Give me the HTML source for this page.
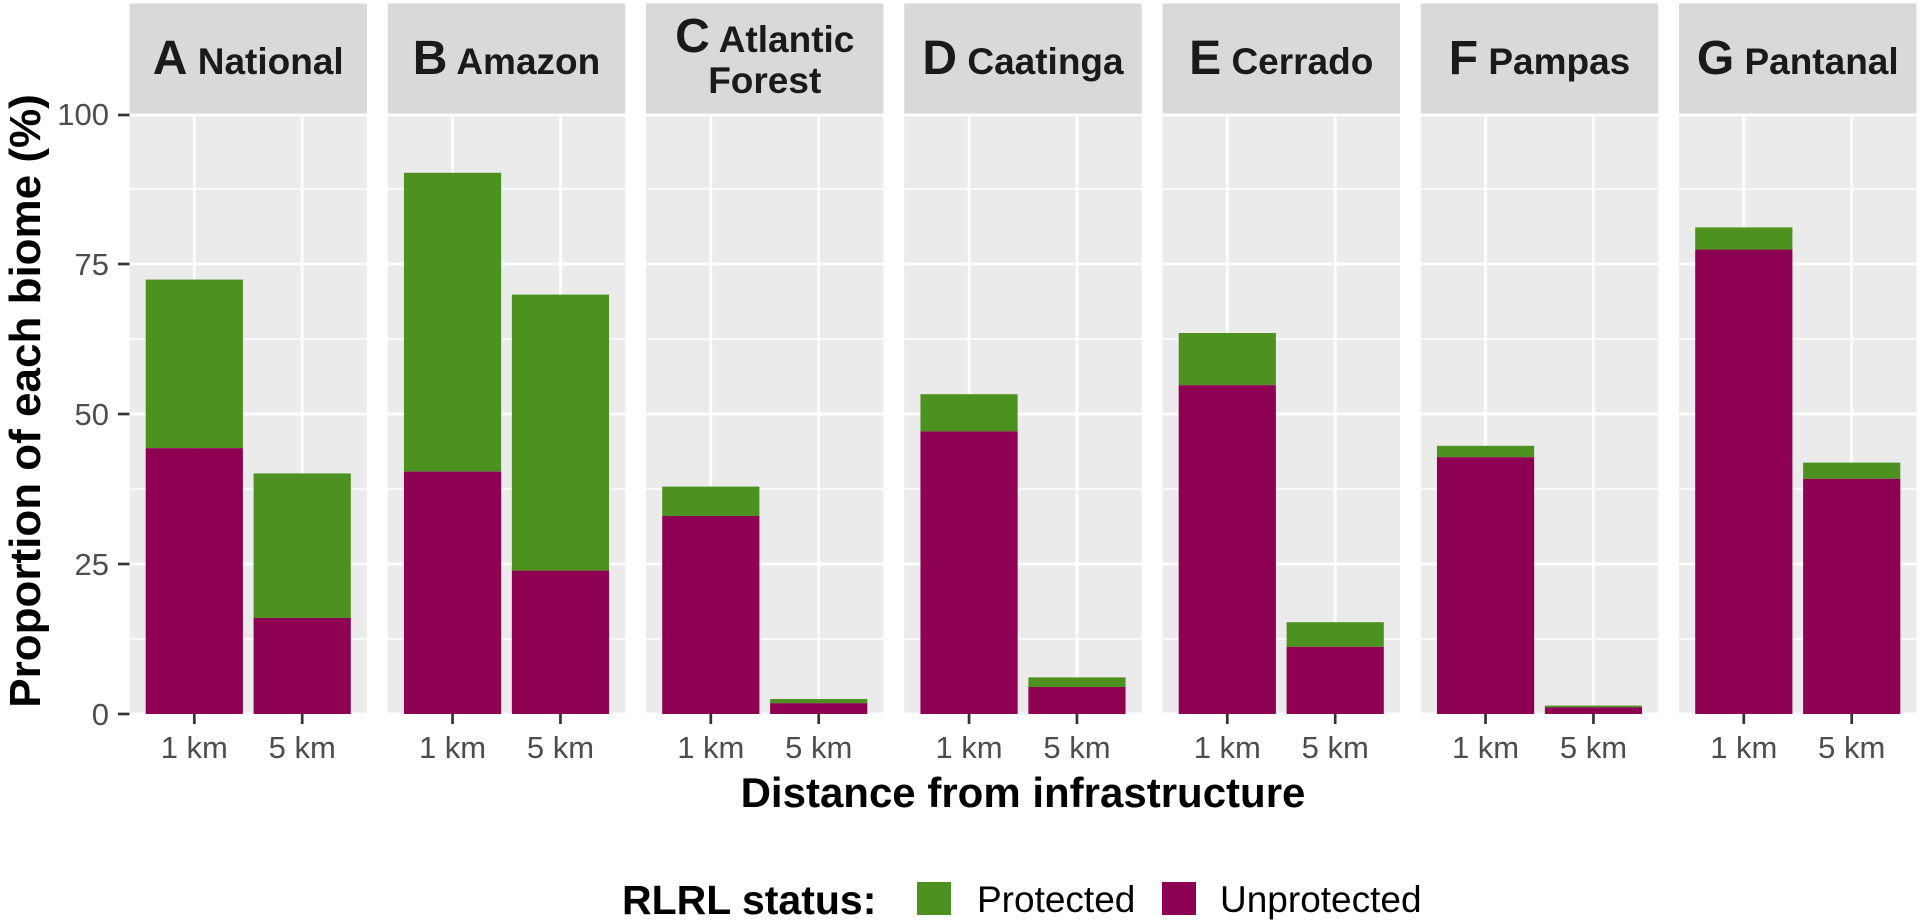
<!DOCTYPE html>
<html>
<head>
<meta charset="utf-8">
<style>
  html, body { margin: 0; padding: 0; background: #ffffff; }
  body { width: 1920px; height: 924px; overflow: hidden; }
  svg { display: block; }
  text { font-family: "Liberation Sans", Arial, sans-serif; }
</style>
</head>
<body>
<svg width="1920" height="924" viewBox="0 0 1920 924" xmlns="http://www.w3.org/2000/svg">
  <rect x="0" y="0" width="1920" height="924" fill="#ffffff"/>

  <g id="panels">
    <!-- Panel A -->
    <g transform="translate(129.5,0)">
      <rect x="0" y="3.5" width="237.5" height="110.5" fill="#d9d9d9"/>
      <rect x="0" y="114" width="237.5" height="600" fill="#ebebeb"/>
      <g stroke="#ffffff" stroke-width="1.4">
        <line x1="0" x2="237.5" y1="639" y2="639"/><line x1="0" x2="237.5" y1="489" y2="489"/>
        <line x1="0" x2="237.5" y1="339" y2="339"/><line x1="0" x2="237.5" y1="189" y2="189"/>
      </g>
      <g stroke="#ffffff" stroke-width="2.7">
        <line x1="0" x2="237.5" y1="714" y2="714"/><line x1="0" x2="237.5" y1="564" y2="564"/>
        <line x1="0" x2="237.5" y1="414" y2="414"/><line x1="0" x2="237.5" y1="264" y2="264"/>
        <line x1="0" x2="237.5" y1="115" y2="115"/>
        <line x1="64.8" x2="64.8" y1="114" y2="714"/><line x1="172.7" x2="172.7" y1="114" y2="714"/>
      </g>
      <rect x="16.2" y="279.6" width="97.2" height="168.6" fill="#4d9221"/>
      <rect x="16.2" y="448.2" width="97.2" height="265.8" fill="#8e0152"/>
      <rect x="124.1" y="473.4" width="97.2" height="144.6" fill="#4d9221"/>
      <rect x="124.1" y="618" width="97.2" height="96" fill="#8e0152"/>
      <g stroke="#333333" stroke-width="2.7">
        <line x1="64.8" x2="64.8" y1="714" y2="724"/><line x1="172.7" x2="172.7" y1="714" y2="724"/>
      </g>
      <text x="118.75" y="74" text-anchor="middle" fill="#1a1a1a" font-weight="bold"><tspan font-size="48">A</tspan><tspan font-size="37"> National</tspan></text>
      <text x="64.8" y="758" text-anchor="middle" fill="#4d4d4d" font-size="31">1 km</text>
      <text x="172.7" y="758" text-anchor="middle" fill="#4d4d4d" font-size="31">5 km</text>
    </g>

    <!-- Panel B -->
    <g transform="translate(387.75,0)">
      <rect x="0" y="3.5" width="237.5" height="110.5" fill="#d9d9d9"/>
      <rect x="0" y="114" width="237.5" height="600" fill="#ebebeb"/>
      <g stroke="#ffffff" stroke-width="1.4">
        <line x1="0" x2="237.5" y1="639" y2="639"/><line x1="0" x2="237.5" y1="489" y2="489"/>
        <line x1="0" x2="237.5" y1="339" y2="339"/><line x1="0" x2="237.5" y1="189" y2="189"/>
      </g>
      <g stroke="#ffffff" stroke-width="2.7">
        <line x1="0" x2="237.5" y1="714" y2="714"/><line x1="0" x2="237.5" y1="564" y2="564"/>
        <line x1="0" x2="237.5" y1="414" y2="414"/><line x1="0" x2="237.5" y1="264" y2="264"/>
        <line x1="0" x2="237.5" y1="115" y2="115"/>
        <line x1="64.8" x2="64.8" y1="114" y2="714"/><line x1="172.7" x2="172.7" y1="114" y2="714"/>
      </g>
      <rect x="16.2" y="172.8" width="97.2" height="298.8" fill="#4d9221"/>
      <rect x="16.2" y="471.6" width="97.2" height="242.4" fill="#8e0152"/>
      <rect x="124.1" y="294.6" width="97.2" height="276" fill="#4d9221"/>
      <rect x="124.1" y="570.6" width="97.2" height="143.4" fill="#8e0152"/>
      <g stroke="#333333" stroke-width="2.7">
        <line x1="64.8" x2="64.8" y1="714" y2="724"/><line x1="172.7" x2="172.7" y1="714" y2="724"/>
      </g>
      <text x="118.75" y="74" text-anchor="middle" fill="#1a1a1a" font-weight="bold"><tspan font-size="48">B</tspan><tspan font-size="37"> Amazon</tspan></text>
      <text x="64.8" y="758" text-anchor="middle" fill="#4d4d4d" font-size="31">1 km</text>
      <text x="172.7" y="758" text-anchor="middle" fill="#4d4d4d" font-size="31">5 km</text>
    </g>

    <!-- Panel C -->
    <g transform="translate(646,0)">
      <rect x="0" y="3.5" width="237.5" height="110.5" fill="#d9d9d9"/>
      <rect x="0" y="114" width="237.5" height="600" fill="#ebebeb"/>
      <g stroke="#ffffff" stroke-width="1.4">
        <line x1="0" x2="237.5" y1="639" y2="639"/><line x1="0" x2="237.5" y1="489" y2="489"/>
        <line x1="0" x2="237.5" y1="339" y2="339"/><line x1="0" x2="237.5" y1="189" y2="189"/>
      </g>
      <g stroke="#ffffff" stroke-width="2.7">
        <line x1="0" x2="237.5" y1="714" y2="714"/><line x1="0" x2="237.5" y1="564" y2="564"/>
        <line x1="0" x2="237.5" y1="414" y2="414"/><line x1="0" x2="237.5" y1="264" y2="264"/>
        <line x1="0" x2="237.5" y1="115" y2="115"/>
        <line x1="64.8" x2="64.8" y1="114" y2="714"/><line x1="172.7" x2="172.7" y1="114" y2="714"/>
      </g>
      <rect x="16.2" y="486.6" width="97.2" height="29.4" fill="#4d9221"/>
      <rect x="16.2" y="516" width="97.2" height="198" fill="#8e0152"/>
      <rect x="124.1" y="699" width="97.2" height="4.2" fill="#4d9221"/>
      <rect x="124.1" y="703.2" width="97.2" height="10.8" fill="#8e0152"/>
      <g stroke="#333333" stroke-width="2.7">
        <line x1="64.8" x2="64.8" y1="714" y2="724"/><line x1="172.7" x2="172.7" y1="714" y2="724"/>
      </g>
      <text x="118.75" y="52" text-anchor="middle" fill="#1a1a1a" font-weight="bold"><tspan font-size="48">C</tspan><tspan font-size="37"> Atlantic</tspan></text>
      <text x="118.75" y="93" text-anchor="middle" fill="#1a1a1a" font-weight="bold" font-size="37">Forest</text>
      <text x="64.8" y="758" text-anchor="middle" fill="#4d4d4d" font-size="31">1 km</text>
      <text x="172.7" y="758" text-anchor="middle" fill="#4d4d4d" font-size="31">5 km</text>
    </g>

    <!-- Panel D -->
    <g transform="translate(904.25,0)">
      <rect x="0" y="3.5" width="237.5" height="110.5" fill="#d9d9d9"/>
      <rect x="0" y="114" width="237.5" height="600" fill="#ebebeb"/>
      <g stroke="#ffffff" stroke-width="1.4">
        <line x1="0" x2="237.5" y1="639" y2="639"/><line x1="0" x2="237.5" y1="489" y2="489"/>
        <line x1="0" x2="237.5" y1="339" y2="339"/><line x1="0" x2="237.5" y1="189" y2="189"/>
      </g>
      <g stroke="#ffffff" stroke-width="2.7">
        <line x1="0" x2="237.5" y1="714" y2="714"/><line x1="0" x2="237.5" y1="564" y2="564"/>
        <line x1="0" x2="237.5" y1="414" y2="414"/><line x1="0" x2="237.5" y1="264" y2="264"/>
        <line x1="0" x2="237.5" y1="115" y2="115"/>
        <line x1="64.8" x2="64.8" y1="114" y2="714"/><line x1="172.7" x2="172.7" y1="114" y2="714"/>
      </g>
      <rect x="16.2" y="394.2" width="97.2" height="37.2" fill="#4d9221"/>
      <rect x="16.2" y="431.4" width="97.2" height="282.6" fill="#8e0152"/>
      <rect x="124.1" y="677.4" width="97.2" height="9.6" fill="#4d9221"/>
      <rect x="124.1" y="687" width="97.2" height="27" fill="#8e0152"/>
      <g stroke="#333333" stroke-width="2.7">
        <line x1="64.8" x2="64.8" y1="714" y2="724"/><line x1="172.7" x2="172.7" y1="714" y2="724"/>
      </g>
      <text x="118.75" y="74" text-anchor="middle" fill="#1a1a1a" font-weight="bold"><tspan font-size="48">D</tspan><tspan font-size="37"> Caatinga</tspan></text>
      <text x="64.8" y="758" text-anchor="middle" fill="#4d4d4d" font-size="31">1 km</text>
      <text x="172.7" y="758" text-anchor="middle" fill="#4d4d4d" font-size="31">5 km</text>
    </g>

    <!-- Panel E -->
    <g transform="translate(1162.5,0)">
      <rect x="0" y="3.5" width="237.5" height="110.5" fill="#d9d9d9"/>
      <rect x="0" y="114" width="237.5" height="600" fill="#ebebeb"/>
      <g stroke="#ffffff" stroke-width="1.4">
        <line x1="0" x2="237.5" y1="639" y2="639"/><line x1="0" x2="237.5" y1="489" y2="489"/>
        <line x1="0" x2="237.5" y1="339" y2="339"/><line x1="0" x2="237.5" y1="189" y2="189"/>
      </g>
      <g stroke="#ffffff" stroke-width="2.7">
        <line x1="0" x2="237.5" y1="714" y2="714"/><line x1="0" x2="237.5" y1="564" y2="564"/>
        <line x1="0" x2="237.5" y1="414" y2="414"/><line x1="0" x2="237.5" y1="264" y2="264"/>
        <line x1="0" x2="237.5" y1="115" y2="115"/>
        <line x1="64.8" x2="64.8" y1="114" y2="714"/><line x1="172.7" x2="172.7" y1="114" y2="714"/>
      </g>
      <rect x="16.2" y="333" width="97.2" height="52.2" fill="#4d9221"/>
      <rect x="16.2" y="385.2" width="97.2" height="328.8" fill="#8e0152"/>
      <rect x="124.1" y="622.2" width="97.2" height="24.6" fill="#4d9221"/>
      <rect x="124.1" y="646.8" width="97.2" height="67.2" fill="#8e0152"/>
      <g stroke="#333333" stroke-width="2.7">
        <line x1="64.8" x2="64.8" y1="714" y2="724"/><line x1="172.7" x2="172.7" y1="714" y2="724"/>
      </g>
      <text x="118.75" y="74" text-anchor="middle" fill="#1a1a1a" font-weight="bold"><tspan font-size="48">E</tspan><tspan font-size="37"> Cerrado</tspan></text>
      <text x="64.8" y="758" text-anchor="middle" fill="#4d4d4d" font-size="31">1 km</text>
      <text x="172.7" y="758" text-anchor="middle" fill="#4d4d4d" font-size="31">5 km</text>
    </g>

    <!-- Panel F -->
    <g transform="translate(1420.75,0)">
      <rect x="0" y="3.5" width="237.5" height="110.5" fill="#d9d9d9"/>
      <rect x="0" y="114" width="237.5" height="600" fill="#ebebeb"/>
      <g stroke="#ffffff" stroke-width="1.4">
        <line x1="0" x2="237.5" y1="639" y2="639"/><line x1="0" x2="237.5" y1="489" y2="489"/>
        <line x1="0" x2="237.5" y1="339" y2="339"/><line x1="0" x2="237.5" y1="189" y2="189"/>
      </g>
      <g stroke="#ffffff" stroke-width="2.7">
        <line x1="0" x2="237.5" y1="714" y2="714"/><line x1="0" x2="237.5" y1="564" y2="564"/>
        <line x1="0" x2="237.5" y1="414" y2="414"/><line x1="0" x2="237.5" y1="264" y2="264"/>
        <line x1="0" x2="237.5" y1="115" y2="115"/>
        <line x1="64.8" x2="64.8" y1="114" y2="714"/><line x1="172.7" x2="172.7" y1="114" y2="714"/>
      </g>
      <rect x="16.2" y="445.8" width="97.2" height="11.4" fill="#4d9221"/>
      <rect x="16.2" y="457.2" width="97.2" height="256.8" fill="#8e0152"/>
      <rect x="124.1" y="705.6" width="97.2" height="1.8" fill="#4d9221"/>
      <rect x="124.1" y="707.4" width="97.2" height="6.6" fill="#8e0152"/>
      <g stroke="#333333" stroke-width="2.7">
        <line x1="64.8" x2="64.8" y1="714" y2="724"/><line x1="172.7" x2="172.7" y1="714" y2="724"/>
      </g>
      <text x="118.75" y="74" text-anchor="middle" fill="#1a1a1a" font-weight="bold"><tspan font-size="48">F</tspan><tspan font-size="37"> Pampas</tspan></text>
      <text x="64.8" y="758" text-anchor="middle" fill="#4d4d4d" font-size="31">1 km</text>
      <text x="172.7" y="758" text-anchor="middle" fill="#4d4d4d" font-size="31">5 km</text>
    </g>

    <!-- Panel G -->
    <g transform="translate(1679,0)">
      <rect x="0" y="3.5" width="237.5" height="110.5" fill="#d9d9d9"/>
      <rect x="0" y="114" width="237.5" height="600" fill="#ebebeb"/>
      <g stroke="#ffffff" stroke-width="1.4">
        <line x1="0" x2="237.5" y1="639" y2="639"/><line x1="0" x2="237.5" y1="489" y2="489"/>
        <line x1="0" x2="237.5" y1="339" y2="339"/><line x1="0" x2="237.5" y1="189" y2="189"/>
      </g>
      <g stroke="#ffffff" stroke-width="2.7">
        <line x1="0" x2="237.5" y1="714" y2="714"/><line x1="0" x2="237.5" y1="564" y2="564"/>
        <line x1="0" x2="237.5" y1="414" y2="414"/><line x1="0" x2="237.5" y1="264" y2="264"/>
        <line x1="0" x2="237.5" y1="115" y2="115"/>
        <line x1="64.8" x2="64.8" y1="114" y2="714"/><line x1="172.7" x2="172.7" y1="114" y2="714"/>
      </g>
      <rect x="16.2" y="227.4" width="97.2" height="22.2" fill="#4d9221"/>
      <rect x="16.2" y="249.6" width="97.2" height="464.4" fill="#8e0152"/>
      <rect x="124.1" y="462.6" width="97.2" height="16.2" fill="#4d9221"/>
      <rect x="124.1" y="478.8" width="97.2" height="235.2" fill="#8e0152"/>
      <g stroke="#333333" stroke-width="2.7">
        <line x1="64.8" x2="64.8" y1="714" y2="724"/><line x1="172.7" x2="172.7" y1="714" y2="724"/>
      </g>
      <text x="118.75" y="74" text-anchor="middle" fill="#1a1a1a" font-weight="bold"><tspan font-size="48">G</tspan><tspan font-size="37"> Pantanal</tspan></text>
      <text x="64.8" y="758" text-anchor="middle" fill="#4d4d4d" font-size="31">1 km</text>
      <text x="172.7" y="758" text-anchor="middle" fill="#4d4d4d" font-size="31">5 km</text>
    </g>
  </g>

  <!-- Y axis ticks and labels -->
  <g stroke="#333333" stroke-width="2.7">
    <line x1="118" x2="129.5" y1="115" y2="115"/>
    <line x1="118" x2="129.5" y1="264" y2="264"/>
    <line x1="118" x2="129.5" y1="414" y2="414"/>
    <line x1="118" x2="129.5" y1="564" y2="564"/>
    <line x1="118" x2="129.5" y1="714" y2="714"/>
  </g>
  <g fill="#4d4d4d" font-size="31" text-anchor="end">
    <text x="109" y="125">100</text>
    <text x="109" y="275">75</text>
    <text x="109" y="425">50</text>
    <text x="109" y="575">25</text>
    <text x="109" y="725">0</text>
  </g>

  <!-- Axis titles -->
  <text x="1023" y="807" text-anchor="middle" font-size="42" font-weight="bold" fill="#000000">Distance from infrastructure</text>
  <text transform="translate(40,401) rotate(-90)" text-anchor="middle" font-size="44" font-weight="bold" fill="#000000">Proportion of each biome (%)</text>

  <!-- Legend -->
  <text x="622" y="914" font-size="41" font-weight="bold" fill="#000000">RLRL status:</text>
  <rect x="917" y="882" width="34" height="33" fill="#4d9221"/>
  <text x="977" y="912" font-size="37" fill="#000000">Protected</text>
  <rect x="1162" y="882" width="34" height="33" fill="#8e0152"/>
  <text x="1220" y="912" font-size="37" fill="#000000">Unprotected</text>
</svg>
</body>
</html>
